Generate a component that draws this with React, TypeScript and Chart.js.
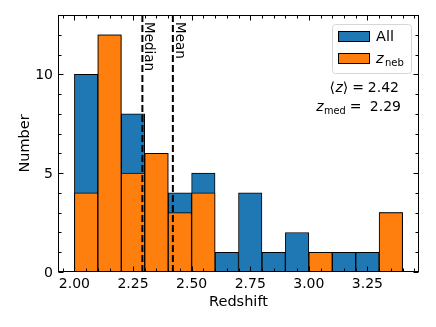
import React, { useEffect, useRef } from "react";
import { Chart, registerables } from "chart.js";

Chart.register(...registerables);

// ---- data ----
const binCenters = [2.05, 2.15, 2.25, 2.35, 2.45, 2.55, 2.65, 2.75, 2.85, 2.95, 3.05, 3.15, 3.25, 3.35];
const countsAll = [10, 12, 8, 6, 4, 5, 1, 4, 1, 2, 1, 1, 1, 3];
const countsNeb = [4, 12, 5, 6, 3, 4, 0, 0, 0, 0, 1, 0, 0, 3];
const xTickValues = [2.0, 2.25, 2.5, 2.75, 3.0, 3.25];
const yTickValues = [0, 5, 10];
const zMean = 2.42;
const zMedian = 2.29;
const xLimits = [1.93, 3.47];
const yLimits = [0, 13];

const FONT = "'DejaVu Sans', 'Noto Sans', sans-serif";
const BLUE = "#1f77b4";
const ORANGE = "#ff7f0e";

const decorPlugin = {
  id: "decor",
  afterDraw(chart: any) {
    const { ctx, chartArea } = chart;
    const { left, right, top, bottom } = chartArea;
    const xs = chart.scales.x;
    const ys = chart.scales.y;
    ctx.save();

    // vertical dashed lines
    ctx.strokeStyle = "#000";
    ctx.lineWidth = 2;
    ctx.setLineDash([7, 3]);
    [zMedian, zMean].forEach((v) => {
      const px = xs.getPixelForValue(v);
      ctx.beginPath();
      ctx.moveTo(px, bottom);
      ctx.lineTo(px, top);
      ctx.stroke();
    });
    ctx.setLineDash([]);

    // rotated labels
    ctx.fillStyle = "#000";
    ctx.font = `13.5px ${FONT}`;
    ctx.textAlign = "left";
    ctx.textBaseline = "alphabetic";
    [[zMedian, "Median"], [zMean, "Mean"]].forEach(([v, t]: any) => {
      const px = xs.getPixelForValue(v);
      ctx.save();
      ctx.translate(px + 3, top + 7);
      ctx.rotate(Math.PI / 2);
      ctx.fillText(t, 0, 0);
      ctx.restore();
    });

    // frame
    ctx.lineWidth = 1;
    ctx.strokeStyle = "#000";
    const L = Math.round(left) + 0.5;
    const R = Math.round(right) - 0.5;
    const T = Math.round(top) + 0.5;
    const B = Math.round(bottom) - 0.5;
    ctx.strokeRect(L, T, R - L, B - T);

    // x ticks (inward, top and bottom)
    ctx.beginPath();
    for (let i = 0; i <= 30; i++) {
      const v = 1.95 + i * 0.05;
      if (v < xLimits[0] || v > xLimits[1]) continue;
      const major = Math.abs(v / 0.25 - Math.round(v / 0.25)) < 1e-6;
      const len = major ? 5 : 3;
      const px = Math.round(xs.getPixelForValue(v)) + 0.5;
      ctx.moveTo(px, B);
      ctx.lineTo(px, B - len);
      ctx.moveTo(px, T);
      ctx.lineTo(px, T + len);
    }
    // y ticks
    for (let v = 0; v <= 13; v++) {
      const major = v % 5 === 0;
      const len = major ? 5 : 3;
      const py = Math.round(ys.getPixelForValue(v)) + 0.5;
      ctx.moveTo(L, py);
      ctx.lineTo(L + len, py);
      ctx.moveTo(R, py);
      ctx.lineTo(R - len, py);
    }
    ctx.stroke();

    // tick labels
    ctx.font = `14px ${FONT}`;
    ctx.textAlign = "center";
    xTickValues.forEach((v) => {
      ctx.fillText(v.toFixed(2), xs.getPixelForValue(v), bottom + 16);
    });
    ctx.textAlign = "right";
    yTickValues.forEach((v) => {
      ctx.fillText(String(v), left - 5, ys.getPixelForValue(v) + 5);
    });

    // axis titles
    ctx.font = `14.5px ${FONT}`;
    ctx.textAlign = "center";
    ctx.fillText("Redshift", (left + right) / 2, bottom + 34);
    ctx.save();
    ctx.translate(29, (top + bottom) / 2);
    ctx.rotate(-Math.PI / 2);
    ctx.fillText("Number", 0, 0);
    ctx.restore();

    // legend
    const lx = 332.5, ly = 24.5, lw = 79, lh = 49, r = 3;
    ctx.beginPath();
    ctx.moveTo(lx + r, ly);
    ctx.arcTo(lx + lw, ly, lx + lw, ly + lh, r);
    ctx.arcTo(lx + lw, ly + lh, lx, ly + lh, r);
    ctx.arcTo(lx, ly + lh, lx, ly, r);
    ctx.arcTo(lx, ly, lx + lw, ly, r);
    ctx.closePath();
    ctx.fillStyle = "rgba(255,255,255,0.8)";
    ctx.fill();
    ctx.strokeStyle = "#d6d6d6";
    ctx.stroke();

    ctx.strokeStyle = "#000";
    ctx.fillStyle = BLUE;
    ctx.fillRect(338.5, 31.5, 31, 10);
    ctx.strokeRect(338.5, 31.5, 31, 10);
    ctx.fillStyle = ORANGE;
    ctx.fillRect(338.5, 53.5, 31, 10);
    ctx.strokeRect(338.5, 53.5, 31, 10);

    ctx.fillStyle = "#000";
    ctx.textAlign = "left";
    ctx.font = `14.5px ${FONT}`;
    ctx.fillText("All", 376, 41);
    ctx.font = `italic 14.5px ${FONT}`;
    ctx.fillText("z", 376, 62.5);
    ctx.font = `10px ${FONT}`;
    ctx.fillText("neb", 385, 65.5);

    // annotations (laid out right to left)
    const fs = 14;
    const normal = `${fs}px ${FONT}`;
    const ital = `italic ${fs}px ${FONT}`;
    const sub = `${(fs * 0.7).toFixed(1)}px ${FONT}`;
    const sp = fs * 0.28;
    ctx.textAlign = "right";
    // line 1: <z> = 2.42
    let x = 399;
    const y1 = 92;
    ctx.font = normal;
    ctx.fillText(zMean.toFixed(2), x, y1);
    x -= ctx.measureText(zMean.toFixed(2)).width + sp;
    ctx.fillText("=", x, y1);
    x -= ctx.measureText("=").width + sp;
    ctx.fillText("\u27E9", x, y1);
    x -= ctx.measureText("\u27E9").width;
    ctx.font = ital;
    ctx.fillText("z", x, y1);
    x -= ctx.measureText("z").width + 0.5;
    ctx.font = normal;
    ctx.fillText("\u27E8", x, y1);
    // line 2: z_med =  2.29
    x = 401;
    const y2 = 110.5;
    ctx.font = normal;
    ctx.fillText(zMedian.toFixed(2), x, y2);
    x -= ctx.measureText(zMedian.toFixed(2)).width + fs * 0.6;
    ctx.fillText("=", x, y2);
    x -= ctx.measureText("=").width + sp;
    ctx.font = sub;
    ctx.fillText("med", x, y2 + 3);
    x -= ctx.measureText("med").width + 0.5;
    ctx.font = ital;
    ctx.fillText("z", x, y2);

    ctx.restore();
  },
};

export default function App() {
  const ref = useRef<HTMLCanvasElement | null>(null);
  useEffect(() => {
    if (!ref.current) return;
    const mk = (counts: number[]) =>
      binCenters
        .map((x, i) => ({ x, y: counts[i] }))
        .filter((p) => p.y > 0);
    const chart = new Chart(ref.current, {
      type: "bar",
      data: {
        datasets: [
          {
            label: "z_neb",
            data: mk(countsNeb) as any,
            backgroundColor: ORANGE,
            borderColor: "#000",
            borderWidth: 1,
            borderSkipped: false,
            barPercentage: 1,
            categoryPercentage: 1,
            grouped: false,
            order: 0,
          } as any,
          {
            label: "All",
            data: mk(countsAll) as any,
            backgroundColor: BLUE,
            borderColor: "#000",
            borderWidth: 1,
            borderSkipped: false,
            barPercentage: 1,
            categoryPercentage: 1,
            grouped: false,
            order: 1,
          } as any,
        ],
      },
      options: {
        animation: false,
        responsive: false,
        devicePixelRatio: 1,
        layout: { padding: { left: 58, top: 15, right: 17, bottom: 55 } },
        plugins: {
          legend: { display: false },
          tooltip: { enabled: false },
        },
        scales: {
          x: {
            type: "linear",
            display: false,
            min: xLimits[0],
            max: xLimits[1],
            offset: false,
          },
          y: {
            type: "linear",
            display: false,
            min: yLimits[0],
            max: yLimits[1],
          },
        },
      } as any,
      plugins: [decorPlugin],
    });
    return () => chart.destroy();
  }, []);
  return (
    <div style={{ position: "fixed", left: 0, top: 0, width: 436, height: 327, background: "#fff" }}>
      <canvas ref={ref} width={436} height={327} style={{ width: 436, height: 327 }} />
    </div>
  );
}
